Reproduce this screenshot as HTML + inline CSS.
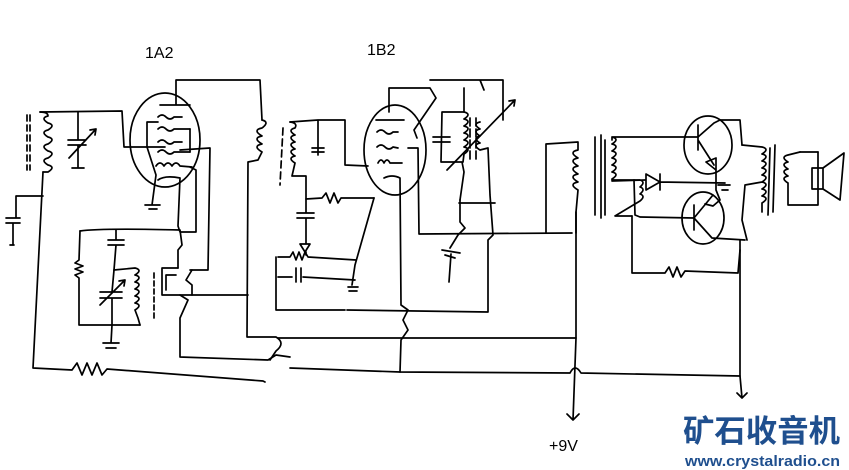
<!DOCTYPE html>
<html><head><meta charset="utf-8"><style>
html,body{margin:0;padding:0;background:#fff;width:849px;height:470px;overflow:hidden}
svg{display:block}
</style></head><body>
<svg width="849" height="470" viewBox="0 0 849 470" xmlns="http://www.w3.org/2000/svg">
<g fill="none" stroke="#000" stroke-width="1.7" stroke-linejoin="round" stroke-linecap="round">
<!-- LEFT INPUT -->
<path d="M40,112 L122,111 L124,147 L165,147"/>
<path d="M40,112 q8,0 8,4 q-8,2 0,7 q8,2 0,7 q-8,2 0,7 q8,2 0,7 q-8,2 0,7 q8,2 0,7 q-8,2 0,7 q8,2 0,7 L43,172"/>
<path d="M27,115 L27,170 M30,115 L30,170" stroke-dasharray="6,4"/>
<path d="M43,172 L33,368 L72,370 l5,-7 l5,12 l5,-12 l5,12 l5,-12 l5,12 l5,-6 L263,381 L265,382"/>
<path d="M78,112 L78,140 M68,140 L86,140 M68,145 L86,145 M78,145 L78,168 M72,168 L84,168 M69,158 L96,129 l-6,1 M96,129 l-1,6"/>
<path d="M43,196 L16,196 L16,218 M6,218 L20,218 M6,223 L20,223 M13,223 L13,245 M10,245 L14,245"/>
<!-- TUBE 1A2 -->
<ellipse cx="165" cy="140" rx="35" ry="47"/>
<path d="M176,80 L176,105 M160,105 L190,105 M176,80 L260,80 L262,120"/>
<path d="M158,117 q4,-4 8,0 q4,4 8,0 L182,117 M158,129 q4,-4 8,0 q4,4 8,0 L190,129 M158,142 q4,-4 8,0 q4,4 8,0 L182,142 M158,152 q4,-4 8,0 q4,4 8,0 L190,152 M156,166 q4,-6 8,0 q4,-6 8,0 q4,-6 8,0 L192,167"/>
<path d="M147,122 L147,147 M147,122 L158,122 M190,129 L190,152 M147,147 L156,175 L152,205 M145,205 L160,205 M149,209 L157,209"/>
<path d="M158,180 Q165,175 180,178 L178,226 L180,232 L196,232 L196,170 L190,167 M180,150 L210,148 L208,270 L190,270"/>
<path d="M80,231 Q100,228 180,230 L182,245 L178,250 L178,268"/>
<path d="M116,230 L116,240 M108,240 L124,240 M108,245 L124,245 M116,245 L114,270"/>
<path d="M80,231 L79,260 l-4,3 l8,3 l-8,3 l8,3 l-8,3 l4,3 L79,325 L140,325"/>
<path d="M114,270 L112,292 M100,292 L122,292 M100,298 L122,298 M112,298 L112,325 M100,305 L125,280 l-6,1 M125,280 l-1,6"/>
<path d="M114,270 L135,268 q8,2 0,7 q8,2 0,7 q8,2 0,7 q8,2 0,7 q8,2 0,7 q8,2 0,7 L138,318 L140,325"/>
<path d="M154,273 L154,318" stroke-dasharray="5,3"/>
<path d="M112,325 L111,343 M103,343 L119,343 M106,348 L116,348"/>
<path d="M178,268 L162,268 L162,295 L192,295 L192,285 L186,280 L192,270 M166,275 L176,275 M166,275 L166,290"/>
<path d="M180,295 L188,300 L180,318 L180,357 L268,360 L276,355 L290,357"/>
<path d="M192,295 L248,295"/>
<path d="M262,120 q8,2 0,8 q-10,2 0,8 q-10,2 0,8 q-10,2 0,8 L258,160 L248,162 L247,337 L276,337 q10,6 0,14 M276,351 L270,360"/>
<!-- TUBE 1B2 -->
<ellipse cx="395" cy="150" rx="31" ry="45"/>
<path d="M389,88 L389,112 M376,120 L404,120 M389,88 L430,88 L436,98 L414,130 L417,138"/>
<path d="M377,132 q4,-4 8,0 q4,4 8,0 L398,132 M377,147 q4,-4 8,0 q4,4 8,0 L398,148 M378,163 q3,-6 6,0 q3,-6 6,0 L402,163 M408,148 L418,148 L419,234 L572,233"/>
<path d="M384,178 Q392,174 400,178 L401,305 L408,310 L403,320 L408,330 L401,340 L400,372"/>
<path d="M430,80 L503,80 L503,120 M480,80 L484,90 M464,88 L464,112 L442,112 L441,162 L462,162 L464,172 L460,200"/>
<path d="M464,112 q8,2 0,7 q8,2 0,7 q8,2 0,7 q8,2 0,7 q8,2 0,7 q8,2 0,7 L463,162"/>
<path d="M433,137 L450,137 M433,142 L450,142"/>
<path d="M480,122 q-8,2 0,7 q-8,2 0,7 q-8,2 0,7 q-8,2 0,7 L488,148 L490,195 L493,235 L488,240 L488,312 L347,310"/>
<path d="M476,118 L476,160 M470,118 L470,160" stroke-dasharray="8,3"/>
<path d="M447,170 L515,100 l-6,1 M515,100 l-1,6"/>
<path d="M460,200 L460,222 L465,228 L458,235 L450,248 M442,250 L460,253 M445,255 L455,258 M451,254 L449,282"/>
<path d="M459,203 L495,203"/>
<path d="M290,122 L318,120 L345,120 L345,165 L368,166 M318,120 L318,155 M312,148 L324,148 M312,152 L324,152"/>
<path d="M290,122 q8,1 5,6 q-8,2 0,7 q-8,2 0,7 q-8,2 0,7 q-8,2 0,7 q-8,2 0,7 L292,176 L306,176 L306,199 M306,199 L322,198 l4,-5 l4,10 l4,-10 l4,10 l3,-5 L374,198"/>
<path d="M283,128 L280,185" stroke-dasharray="7,4"/>
<path d="M306,199 L306,213 M297,213 L314,213 M297,218 L314,218 M306,218 L306,244 M300,244 L310,244 L305,252 Z"/>
<path d="M278,257 L290,257 l3,-5 l3,8 l3,-8 l3,8 l3,-8 l3,5 L356,260 M306,252 L306,255"/>
<path d="M278,277 L292,277 M296,268 L296,282 M301,268 L301,282 M303,277 L355,280 M374,198 L355,265 L352,285 M348,287 L358,287 M349,291 L357,291"/>
<path d="M276,257 L276,310 L345,310"/>
<path d="M278,338 L576,338 L576,212"/>
<path d="M290,368 L400,372 L570,373 q5,-10 11,0 L740,376 L740,240"/>
<path d="M576,338 L573,420 l-6,-6 M573,420 l6,-6 M740,376 L742,398 l-5,-5 M742,398 l5,-5"/>
<path d="M546,233 L546,144 L578,142 L578,150 q-10,2 0,8 q-10,2 0,8 q-10,2 0,8 q-10,2 0,8 q-10,2 0,8 L576,212 L576,233"/>
<path d="M595,137 L595,215 M601,135 L601,218 M605,140 L605,215"/>
<!-- OUTPUT STAGE -->
<path d="M612,140 L612,137 L698,137 M612,137 q8,2 0,7 q8,2 0,7 q8,2 0,7 q8,2 0,7 q8,2 0,7 q8,2 0,7 L612,180 L640,180 q6,2 0,7 q6,2 0,7 q6,2 0,7 L615,216 L632,216"/>
<ellipse cx="708" cy="145" rx="24" ry="29"/>
<ellipse cx="703" cy="218" rx="21" ry="26"/>
<path d="M698,125 L698,150 M698,137 L714,123 L720,120 L740,120 L742,145 M698,140 L714,165 M706,162 L716,158 L716,170 Z M716,165 L716,190 L720,200 L713,206 L705,204 M713,195 L694,218 M694,205 L694,230 M694,218 L712,238 L745,240"/>
<path d="M612,181 L645,180 M646,174 L646,190 L660,182 Z M660,174 L660,190 M660,182 L725,183 M718,185 L730,185 M722,190 L728,190"/>
<path d="M634,180 L635,215 L640,217 L694,218"/>
<path d="M632,216 L632,273 L665,273 l4,-6 l4,10 l4,-10 l4,10 l4,-6 L738,273 L740,250"/>
<path d="M742,145 L762,147 q8,2 0,7 q8,2 0,7 q8,2 0,7 q8,2 0,7 q8,2 0,7 L745,185 L742,220 L747,240 M762,182 q8,2 0,7 q8,2 0,7 q8,2 0,7 L762,212"/>
<path d="M770,148 L768,215 M775,145 L773,212"/>
<path d="M800,152 L788,155 q-8,2 0,7 q-8,2 0,7 q-8,2 0,7 q-8,2 0,7 L788,205 L818,205 M818,152 L818,205"/>
<path d="M812,168 L823,168 L823,189 L812,189 Z M823,168 L844,153 L840,200 L823,189"/>
<path d="M800,152 L818,152"/>
</g>
<g font-family="Liberation Sans, sans-serif" fill="#000">
<text x="145" y="58" font-size="16">1A2</text>
<text x="367" y="55" font-size="16">1B2</text>
<text x="549" y="451" font-size="16">+9V</text>
</g>
<text x="683" y="442" font-family="Liberation Sans, 'Noto Sans CJK SC', sans-serif" font-size="31" font-weight="bold" fill="#1f4f8e" textLength="157" lengthAdjust="spacingAndGlyphs">矿石收音机</text>
<text x="685" y="466" font-family="Liberation Sans, sans-serif" font-size="15" font-weight="bold" fill="#1f4f8e" textLength="155" lengthAdjust="spacingAndGlyphs">www.crystalradio.cn</text>
</svg>
</body></html>
